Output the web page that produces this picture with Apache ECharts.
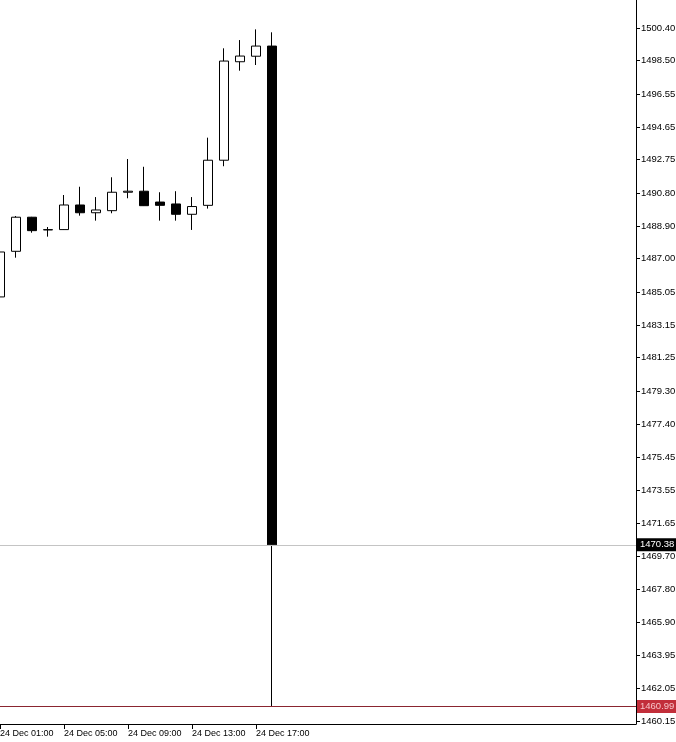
<!DOCTYPE html>
<html>
<head>
<meta charset="utf-8">
<style>
html,body{margin:0;padding:0;background:#fff;}
#chart{width:676px;height:742px;}
</style>
<script src="https://cdn.jsdelivr.net/npm/echarts@6/dist/echarts.min.js"></script>
</head>
<body>
<div id="chart"></div>
<script>
// Hourly candles, 24 Dec (hour of day)
const hours  = [1, 2, 3, 4, 5, 6, 7, 8, 9, 10, 11, 12, 13, 14, 15, 16, 17, 18];
const opens  = [1484.78, 1487.43, 1489.41, 1488.67, 1488.69, 1490.12, 1489.67, 1489.79, 1490.86, 1490.92, 1490.29, 1490.18, 1489.58, 1490.10, 1492.72, 1498.44, 1498.76, 1499.35];
const closes = [1487.39, 1489.41, 1488.63, 1488.69, 1490.12, 1489.67, 1489.83, 1490.86, 1490.92, 1490.08, 1490.10, 1489.58, 1490.03, 1492.72, 1498.48, 1498.77, 1499.35, 1470.38];
const lows   = [1484.60, 1487.06, 1488.51, 1488.28, 1488.67, 1489.50, 1489.21, 1489.64, 1490.51, 1490.06, 1489.21, 1489.21, 1488.67, 1489.91, 1492.37, 1497.92, 1498.25, 1460.99];
const highs  = [1487.56, 1489.48, 1489.43, 1488.84, 1490.70, 1491.18, 1490.58, 1491.73, 1492.79, 1492.34, 1490.86, 1490.92, 1490.58, 1494.03, 1499.22, 1499.70, 1500.32, 1500.15];

const yTickLabels = [1500.40, 1498.50, 1496.55, 1494.65, 1492.75, 1490.80, 1488.90, 1487.00, 1485.05, 1483.15, 1481.25,
                     1479.30, 1477.40, 1475.45, 1473.55, 1471.65, 1469.70, 1467.80, 1465.90, 1463.95, 1462.05, 1460.15];
const xTickHours = [1, 5, 9, 13, 17];
const xDay = '24 Dec';
const bidPrice = 1470.38;
const lowPrice = 1460.99;

const candleData = hours.map((h, i) => [h, opens[i], closes[i], lows[i], highs[i]]);
const pad = n => (n < 10 ? '0' : '') + n;
const FONT = 'Liberation Sans';

const chart = echarts.init(document.getElementById('chart'), null, {renderer: 'canvas'});
chart.setOption({
  animation: false,
  backgroundColor: '#ffffff',
  grid: {left: 0, right: 40, top: 0, bottom: 18, containLabel: false, outerBoundsMode: 'none'},
  xAxis: {
    type: 'value',
    min: 1,
    max: 40.75,
    splitLine: {show: false},
    axisLine: {show: true, onZero: false, lineStyle: {color: '#000', width: 1}},
    axisTick: {show: true, customValues: xTickHours, length: 5, inside: false, lineStyle: {color: '#000'}},
    axisLabel: {
      show: true, customValues: xTickHours, align: 'left', margin: 5,
      color: '#000', fontFamily: FONT, fontSize: 9,
      formatter: v => xDay + ' ' + pad(Math.round(v)) + ':00'
    }
  },
  yAxis: {
    type: 'value',
    position: 'right',
    min: 1459.975,
    max: 1502.026,
    scale: true,
    splitLine: {show: false},
    axisLine: {show: true, onZero: false, lineStyle: {color: '#000', width: 1}},
    axisTick: {show: true, customValues: yTickLabels, length: 4, lineStyle: {color: '#000'}},
    axisLabel: {
      show: true, customValues: yTickLabels, margin: 5,
      color: '#000', fontFamily: FONT, fontSize: 9.5,
      formatter: v => v.toFixed(2)
    }
  },
  series: [{
    type: 'candlestick',
    data: candleData,
    barWidth: 10,
    clip: true,
    itemStyle: {
      color: '#ffffff',
      color0: '#000000',
      borderColor: '#000000',
      borderColor0: '#000000',
      borderWidth: 1
    },
    markLine: {
      silent: true,
      symbol: ['none', 'none'],
      animation: false,
      data: [
        {
          yAxis: bidPrice,
          lineStyle: {color: '#c4c4c4', width: 1, type: 'solid'},
          label: {
            show: true, position: 'end', distance: 1,
            formatter: p => Number(p.value).toFixed(2),
            color: '#ffffff', backgroundColor: '#000000',
            padding: [2, 3, 1, 3], fontFamily: FONT, fontSize: 9.5
          }
        },
        {
          yAxis: lowPrice,
          lineStyle: {color: '#8a2530', width: 1, type: 'solid'},
          label: {
            show: true, position: 'end', distance: 1,
            formatter: p => Number(p.value).toFixed(2),
            color: '#f6c4c8', backgroundColor: '#c22e3a',
            padding: [2, 3, 1, 3], fontFamily: FONT, fontSize: 9.5
          }
        }
      ]
    }
  }]
});
</script>
</body>
</html>
